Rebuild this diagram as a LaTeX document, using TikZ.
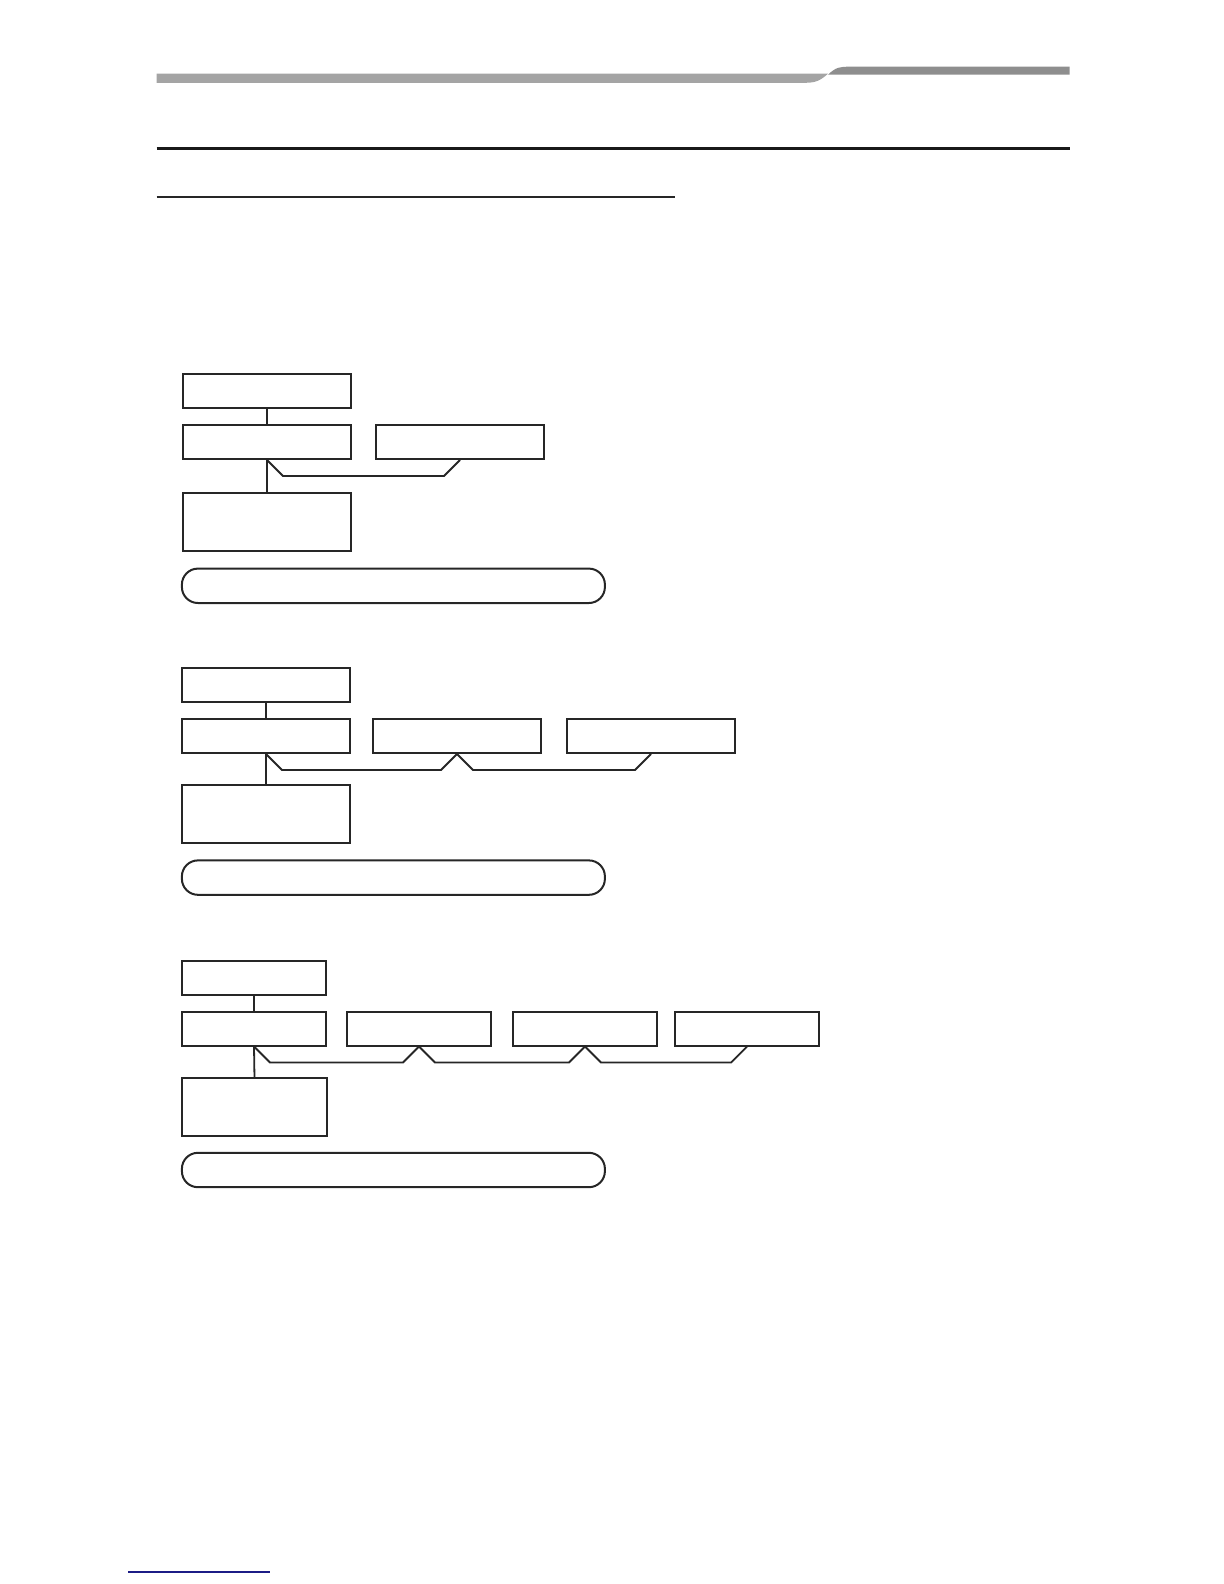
\documentclass[tikz,border=0pt]{standalone}
\usepackage{tikz}
\usetikzlibrary{positioning}
\definecolor{barlight}{HTML}{A4A4A4}
\definecolor{bardark}{HTML}{8E8E8E}
\definecolor{linkblue}{HTML}{1C1C86}

\begin{document}
\begin{tikzpicture}[
        x=0.5pt, y=-0.5pt,
        % Stili per i blocchi
        box/.style={rectangle, draw=black!85, line width=1pt, fill=white, minimum width=84.3pt, minimum height=17pt, inner sep=0pt},
        narrow/.style={box, minimum width=72.3pt},
        tall/.style={minimum height=29.3pt},
        pill/.style={rectangle, draw=black!85, line width=1pt, minimum width=211.5pt, minimum height=17.2pt, rounded corners=8pt, inner sep=0pt},
        % Stili per le linee
        stem/.style={line width=0.9pt, draw=black!85},
        link/.style={line width=0.9pt, draw=black!85, line join=miter}
    ]
    \useasboundingbox (0,0) rectangle (1224,1584);

    % --- HEADER ---
    \fill[barlight] (156.5,73.7) -- (828,73.7) .. controls (820,81) and (815,82.8) .. (805,82.8) -- (156.5,82.8) -- cycle;
    \fill[bardark] (828,74.7) .. controls (836,67) and (840,66.7) .. (850,66.7) -- (1069.5,66.7) -- (1069.5,74.7) -- cycle;
    \draw[line width=1.5pt, black!90] (156.5,148.5) -- (1069.5,148.5);
    \draw[line width=1pt, black!85] (156.5,197) -- (674.6,197);

    % --- SECTION 1 ---
    \node[box] (A1) at (267,391) {};
    \node[box] (B1) at (267,442) {};
    \node[box] (C1) at (460,442) {};
    \node[box, tall] (D1) at (267,522) {};
    \node[pill] (R1) at (393.4,585.8) {};
    \draw[stem] (A1) -- (B1);
    \draw[stem] (B1) -- (D1);
    \draw[link] (B1.south) \foreach \c in {C1} {
        -- ++(16,16) -- ([shift={(-16,16)}]\c.south) -- (\c.south)
    };

    % --- SECTION 2 ---
    \node[box] (A2) at (266,685) {};
    \node[box] (B2) at (266,736) {};
    \node[box] (C2) at (457,736) {};
    \node[box] (E2) at (651,736) {};
    \node[box, tall] (D2) at (266,814) {};
    \node[pill] (R2) at (393.4,877.6) {};
    \draw[stem] (A2) -- (B2);
    \draw[stem] (B2) -- (D2);
    \draw[link] (B2.south) \foreach \c in {C2,E2} {
        -- ++(16,16) -- ([shift={(-16,16)}]\c.south) -- (\c.south)
    };

    % --- SECTION 3 ---
    \node[narrow] (A3) at (254,978) {};
    \node[narrow] (B3) at (254,1028.5) {};
    \node[narrow] (C3) at (419,1028.5) {};
    \node[narrow] (E3) at (585,1028.5) {};
    \node[narrow] (F3) at (747,1028.5) {};
    \node[narrow, tall] (D3) at (254.5,1107) {};
    \node[pill] (R3) at (393.4,1170) {};
    \draw[stem] (A3) -- (B3);
    \draw[stem] (B3.south) -- ([yshift=-1pt]D3.north);
    \draw[link] (B3.south) \foreach \c in {C3,E3,F3} {
        -- ++(16,16) -- ([shift={(-16,16)}]\c.south) -- (\c.south)
    };

    % --- FOOTER ---
    \draw[line width=1pt, linkblue] (128.3,1572.4) -- (269.6,1572.4);

\end{tikzpicture}
\end{document}
